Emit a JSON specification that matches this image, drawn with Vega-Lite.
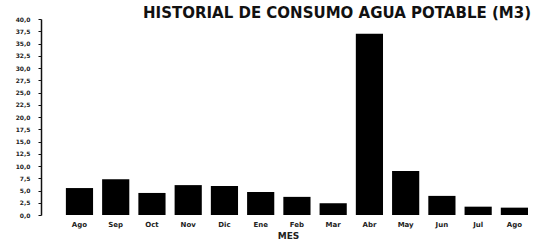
{
  "$schema": "https://vega.github.io/schema/vega-lite/v6.json",
  "autosize": "none",
  "width": 494,
  "height": 196,
  "padding": {"left": 41, "top": 19, "right": 0, "bottom": 26},
  "background": "white",
  "title": {
    "text": "HISTORIAL DE CONSUMO AGUA POTABLE (M3)",
    "anchor": "end",
    "font": "DejaVu Sans",
    "fontSize": 15,
    "fontWeight": "bold",
    "color": "#111",
    "offset": 2,
    "dx": -4,
    "dy": 7
  },
  "data": {
    "values": [
      {"mes": "Ago", "consumo": 5.5},
      {"mes": "Sep", "consumo": 7.3},
      {"mes": "Oct", "consumo": 4.5},
      {"mes": "Nov", "consumo": 6.1},
      {"mes": "Dic", "consumo": 5.9},
      {"mes": "Ene", "consumo": 4.7},
      {"mes": "Feb", "consumo": 3.7},
      {"mes": "Mar", "consumo": 2.4},
      {"mes": "Abr", "consumo": 37.0},
      {"mes": "May", "consumo": 9.0},
      {"mes": "Jun", "consumo": 3.9},
      {"mes": "Jul", "consumo": 1.7},
      {"mes": "Ago ", "consumo": 1.5}
    ]
  },
  "mark": {"type": "bar", "color": "black"},
  "encoding": {
    "x": {
      "field": "mes",
      "type": "ordinal",
      "sort": null,
      "scale": {"paddingInner": 0.25, "paddingOuter": 0.44, "align": 0.78},
      "axis": {
        "title": "MES",
        "titleFont": "DejaVu Sans",
        "titleFontSize": 9,
        "titleFontWeight": "bold",
        "titleColor": "#222",
        "titlePadding": 4,
        "labelAngle": 0,
        "labelFont": "DejaVu Sans",
        "labelFontSize": 7,
        "labelFontWeight": "bold",
        "labelColor": "#222",
        "labelPadding": 5,
        "domain": false,
        "ticks": false
      }
    },
    "y": {
      "field": "consumo",
      "type": "quantitative",
      "scale": {"domain": [0, 40], "nice": false},
      "axis": {
        "title": null,
        "values": [0, 2.5, 5, 7.5, 10, 12.5, 15, 17.5, 20, 22.5, 25, 27.5, 30, 32.5, 35, 37.5, 40],
        "labelExpr": "replace(format(datum.value, '.1f'), '.', ',')",
        "labelFont": "DejaVu Sans",
        "labelFontSize": 6,
        "labelFontWeight": "bold",
        "labelColor": "#222",
        "labelPadding": 8,
        "grid": false,
        "domainColor": "#111",
        "domainWidth": 1.5,
        "tickColor": "#111",
        "tickSize": 3
      }
    }
  },
  "config": {"view": {"stroke": null}}
}
